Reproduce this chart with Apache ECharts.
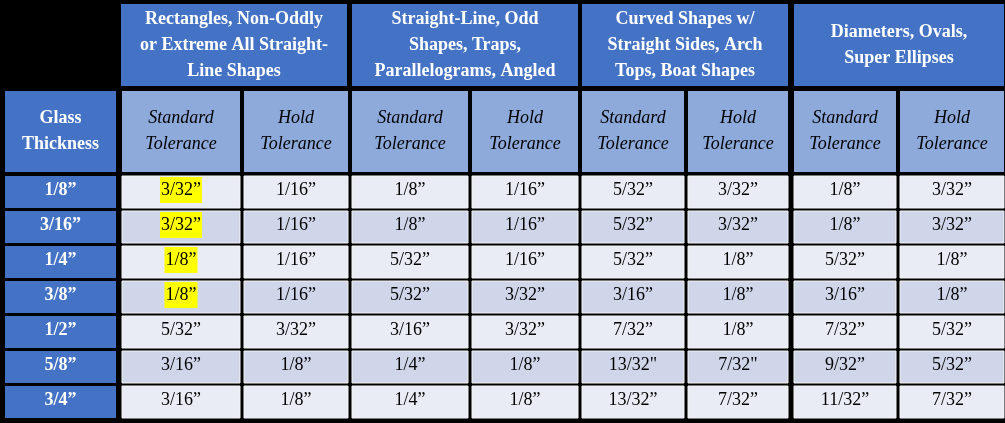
<!DOCTYPE html>
<html><head><meta charset="utf-8">
<script src="https://cdn.jsdelivr.net/npm/echarts@6/dist/echarts.min.js"></script>
<style>html,body{margin:0;background:#000}#c{width:1005px;height:423px}</style></head>
<body><div id="c"></div>
<script>
const groups = ["Rectangles, Non-Oddly\nor Extreme All Straight-\nLine Shapes","Straight-Line, Odd\nShapes, Traps,\nParallelograms, Angled","Curved Shapes w/\nStraight Sides, Arch\nTops, Boat Shapes","Diameters, Ovals,\nSuper Ellipses"];
const subHeaders = ["Standard\nTolerance","Hold\nTolerance","Standard\nTolerance","Hold\nTolerance","Standard\nTolerance","Hold\nTolerance","Standard\nTolerance","Hold\nTolerance"];
const thickness = ["1/8”","3/16”","1/4”","3/8”","1/2”","5/8”","3/4”"];
const col1 = ["3/32”","3/32”","1/8”","1/8”","5/32”","3/16”","3/16”"];
const col2 = ["1/16”","1/16”","1/16”","1/16”","3/32”","1/8”","1/8”"];
const col3 = ["1/8”","1/8”","5/32”","5/32”","3/16”","1/4”","1/4”"];
const col4 = ["1/16”","1/16”","1/16”","3/32”","3/32”","1/8”","1/8”"];
const col5 = ["5/32”","5/32”","5/32”","3/16”","7/32”","13/32\"","13/32”"];
const col6 = ["3/32”","3/32”","1/8”","1/8”","1/8”","7/32\"","7/32”"];
const col7 = ["1/8”","1/8”","5/32”","3/16”","7/32”","9/32”","11/32”"];
const col8 = ["3/32”","3/32”","1/8”","1/8”","5/32”","5/32”","7/32”"];
const highlighted = [[0,0],[0,1],[0,2],[0,3]];

// layout (pixel units on the hidden value axes)
const colEdges = [[122,240],[244,348],[352,468],[472,578],[582,684],[688,788],[794,896],[900,1004]];
const groupEdges = [[121,347],[352,578],[582,788],[794,1004]];
const leftEdge = [5,116];
const rowTop = 176, rowH = 35, rowGap = 3;

const cols = [col1,col2,col3,col4,col5,col6,col7,col8];
const items = [];
groups.forEach((g,i)=>items.push({value:[groupEdges[i][0],4,groupEdges[i][1],86],kind:'group',text:g}));
items.push({value:[leftEdge[0],91,leftEdge[1],172],kind:'left',text:'Glass\nThickness'});
subHeaders.forEach((s,i)=>items.push({value:[colEdges[i][0],91,colEdges[i][1],172],kind:'sub',text:s}));
thickness.forEach((t,r)=>{
  const y0=rowTop+r*rowH, y1=y0+rowH-rowGap;
  items.push({value:[leftEdge[0],y0,leftEdge[1],y1],kind:'left',text:t});
  cols.forEach((c,ci)=>{
    const hl = highlighted.some(h=>h[0]===ci&&h[1]===r);
    items.push({value:[colEdges[ci][0],y0,colEdges[ci][1],y1],kind:r%2?'dark':'light',text:c[r],hl});
  });
});
const fills={group:'#4472c4',left:'#4472c4',sub:'#8eaadb',light:'#e9ecf5',dark:'#cfd6ea'};
const chart=echarts.init(document.getElementById('c'));
chart.setOption({
  backgroundColor:'#000',
  grid:{left:0,right:0,top:0,bottom:0},
  xAxis:{type:'value',min:0,max:1005,show:false},
  yAxis:{type:'value',min:0,max:423,inverse:true,show:false},
  series:[{type:'custom',data:items,encode:{x:[0,2],y:[1,3]},
    renderItem:(params,api)=>{
      const d=items[params.dataIndex];
      const p0=api.coord([api.value(0),api.value(1)]), p1=api.coord([api.value(2),api.value(3)]);
      const w=p1[0]-p0[0], h=p1[1]-p0[1];
      const header=d.kind==='group'||d.kind==='left';
      const data=d.kind==='light'||d.kind==='dark';
      const children=[{type:'rect',shape:{x:p0[0],y:p0[1],width:w,height:h},
        style:{fill:fills[d.kind],stroke:data?'#f4f4f4':null,lineWidth:data?1:0}}];
      children.push({type:'text',style:{text:d.text,x:p0[0]+w/2,y:p0[1]+h/2-(data||d.kind==='left'&&h<40?2:0),align:'center',verticalAlign:'middle',
        fill:header?'#fff':'#000',fontFamily:'"Liberation Serif", "DejaVu Serif", serif',
        fontSize:18,fontStyle:d.kind==='sub'?'italic':'normal',fontWeight:header?'bold':'normal',
        lineHeight:26,
        backgroundColor:d.hl?'#ffff00':null,padding:d.hl?[1,1,-1,1]:0}});
      return {type:'group',children};
    }}]
});
</script></body></html>
